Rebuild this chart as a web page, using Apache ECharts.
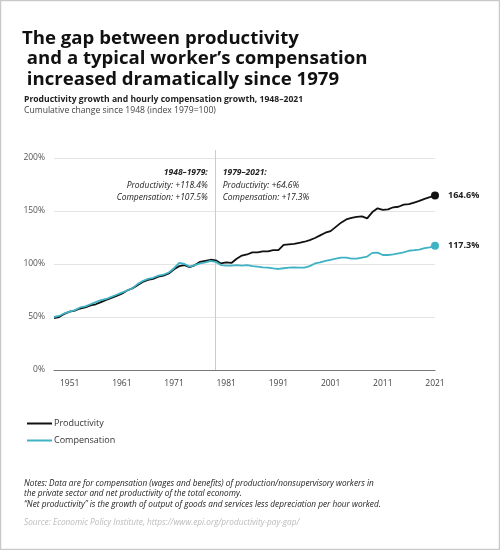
<!DOCTYPE html>
<html>
<head>
<meta charset="utf-8">
<title>Productivity-pay gap</title>
<script src="https://cdn.jsdelivr.net/npm/echarts@6/dist/echarts.min.js"></script>
<style>
    html, body {
        margin: 0;
        padding: 0;
        background: #fff;
    }

    #chart {
        width: 500px;
        height: 550px;
    }
</style>
</head>
<body>
<div id="chart"></div>
<script>
// 年份 1948-2021
const years = [];
for (let y = 1948; y <= 2021; y++) years.push(String(y));

// x轴上显示的年份
const xLabels = ['1951', '1961', '1971', '1981', '1991', '2001', '2011', '2021'];

// 生产率 (index 1979=100, 从图上读出)
const productivity = [
    49, 50, 53, 55, 56, 58, 59, 61, 62, 64,
    66, 68, 70, 72, 75, 77, 80, 83, 85, 86,
    88, 89, 91, 95, 98, 99, 97, 99, 102, 103,
    104, 103.5, 100.5, 101.5, 101, 105, 108, 109, 111, 111,
    112, 112, 113, 113, 118, 118.5, 119, 120, 121, 122.5,
    124.5, 127, 129.5, 131, 135, 139, 142, 143.5, 144.5, 145,
    143, 149, 152.5, 151, 151.5, 153.5, 154, 156, 156.5, 158,
    159.5, 161.5, 163, 164.6
];

// 时薪报酬
const compensation = [
    50, 51, 53.5, 55, 56.5, 59, 60, 62, 64, 66,
    67, 69, 71, 73, 75, 77, 81, 84, 86, 87,
    89, 90, 92, 96, 101, 100, 97.5, 99, 100.5, 101.5,
    103, 102, 99, 98.5, 98.5, 99, 98.5, 99, 98, 97.5,
    96.9, 96.5, 95.8, 95.3, 96, 96.5, 96.8, 96.5, 96.5, 98,
    100.5, 101.5, 103, 104, 105, 106, 106, 105, 105, 106,
    107, 110.5, 110.7, 108.5, 108.5, 109, 110, 111, 112.5, 113,
    113.6, 115, 115.7, 117.3
];

const seriesNames = ['Productivity', 'Compensation'];
const seriesColors = ['#111111', '#3fb2c4'];

const font = '"Open Sans", "Noto Sans", sans-serif';

// 最后一个点加圆点和标签
function withEndPoint(data, color) {
    const out = data.slice(0, -1);
    const last = data[data.length - 1];
    out.push({
        value: last,
        symbol: 'circle',
        symbolSize: 8,
        itemStyle: { color: color },
        label: {
            show: true,
            position: 'right',
            distance: 9,
            formatter: last.toFixed(1) + '%',
            fontFamily: font,
            fontSize: 9,
            fontWeight: 'bold',
            color: '#222'
        }
    });
    return out;
}

const chart = echarts.init(document.getElementById('chart'), null, { renderer: 'canvas' });

chart.setOption({
    animation: false,
    backgroundColor: '#fff',
    textStyle: { fontFamily: font },
    grid: {
        left: 54,
        right: 65,
        top: 158,
        bottom: 180,
        containLabel: false
    },
    legend: {
        orient: 'vertical',
        left: 22,
        top: 414,
        itemWidth: 25,
        itemHeight: 2,
        itemGap: 8,
        icon: 'rect',
        data: seriesNames,
        textStyle: { fontFamily: font, fontSize: 9, color: '#333', padding: [0, 0, 0, -3] }
    },
    xAxis: {
        type: 'category',
        data: years,
        boundaryGap: false,
        axisLine: { lineStyle: { color: '#777', width: 1 } },
        axisTick: { show: false },
        axisLabel: {
            interval: (idx, val) => xLabels.includes(val),
            color: '#444',
            fontSize: 8.5,
            margin: 9,
            fontFamily: font
        },
        splitLine: { show: false }
    },
    yAxis: {
        type: 'value',
        min: 0,
        max: 200,
        interval: 50,
        axisLine: { show: false },
        axisTick: { show: false },
        axisLabel: {
            formatter: '{value}%',
            color: '#555',
            fontSize: 8.5,
            margin: 9,
            fontFamily: font
        },
        splitLine: { lineStyle: { color: '#e4e4e4', width: 1 } }
    },
    series: [
        {
            name: seriesNames[0],
            type: 'line',
            symbol: 'none',
            showSymbol: true,
            data: withEndPoint(productivity, seriesColors[0]),
            lineStyle: { color: seriesColors[0], width: 1.8 },
            itemStyle: { color: seriesColors[0] },
            z: 3
        },
        {
            name: seriesNames[1],
            type: 'line',
            symbol: 'none',
            showSymbol: true,
            data: withEndPoint(compensation, seriesColors[1]),
            lineStyle: { color: seriesColors[1], width: 1.8 },
            itemStyle: { color: seriesColors[1] },
            z: 4
        }
    ]
});

// 1979 的分隔线和注释, 位置由坐标轴换算
const x79 = chart.convertToPixel({ xAxisIndex: 0 }, '1979');
const yBottom = chart.convertToPixel({ yAxisIndex: 0 }, 0);

const italicSmall = { fontFamily: font, fontSize: 8.5, fontStyle: 'italic', fill: '#222' };

chart.setOption({
    graphic: [
        // 外框
        {
            type: 'rect',
            shape: { x: 0.5, y: 0.5, width: 499, height: 549 },
            style: { fill: 'none', stroke: '#c9c9c9', lineWidth: 1.5 },
            silent: true
        },
        // 标题
        {
            type: 'text',
            left: 22,
            top: 28,
            style: {
                text: 'The gap between productivity\n and a typical worker\u2019s compensation\n increased dramatically since 1979',
                fontFamily: font,
                fontSize: 18.6,
                fontWeight: 'bold',
                lineHeight: 20.5,
                fill: '#111'
            }
        },
        {
            type: 'text',
            left: 24,
            top: 95,
            style: {
                text: 'Productivity growth and hourly compensation growth, 1948\u20132021',
                fontFamily: font,
                fontSize: 8.6,
                fontWeight: 'bold',
                fill: '#222'
            }
        },
        {
            type: 'text',
            left: 24,
            top: 106,
            style: {
                text: 'Cumulative change since 1948 (index 1979=100)',
                fontFamily: font,
                fontSize: 8.6,
                fill: '#444'
            }
        },
        // 分隔线
        {
            type: 'line',
            shape: { x1: Math.round(x79) - 0.5, y1: 150, x2: Math.round(x79) - 0.5, y2: yBottom },
            style: { stroke: '#cccccc', lineWidth: 1 },
            silent: true,
            z: 1
        },
        // 左侧注释
        {
            type: 'text',
            x: x79 - 8,
            y: 168,
            style: Object.assign({}, italicSmall, {
                text: '1948\u20131979:',
                fontWeight: 'bold',
                align: 'right'
            })
        },
        {
            type: 'text',
            x: x79 - 8,
            y: 180,
            style: Object.assign({}, italicSmall, {
                text: 'Productivity: +118.4%\nCompensation: +107.5%',
                lineHeight: 11.5,
                align: 'right'
            })
        },
        // 右侧注释
        {
            type: 'text',
            x: x79 + 7,
            y: 168,
            style: Object.assign({}, italicSmall, {
                text: '1979\u20132021:',
                fontWeight: 'bold'
            })
        },
        {
            type: 'text',
            x: x79 + 7,
            y: 180,
            style: Object.assign({}, italicSmall, {
                text: 'Productivity: +64.6%\nCompensation: +17.3%',
                lineHeight: 11.5
            })
        },
        // 注释
        {
            type: 'text',
            left: 24,
            top: 478,
            style: {
                text: 'Notes: Data are for compensation (wages and benefits) of production/nonsupervisory workers in\nthe private sector and net productivity of the total economy.\n\u201cNet productivity\u201d is the growth of output of goods and services less depreciation per hour worked.',
                fontFamily: font,
                fontSize: 8.25,
                fontStyle: 'italic',
                lineHeight: 10.5,
                fill: '#222'
            }
        },
        {
            type: 'text',
            left: 24,
            top: 519,
            style: {
                text: 'Source: Economic Policy Institute, https://www.epi.org/productivity-pay-gap/',
                fontFamily: font,
                fontSize: 8.25,
                fontStyle: 'italic',
                fill: '#bbbbbb'
            }
        }
    ]
});
</script>
</body>
</html>
